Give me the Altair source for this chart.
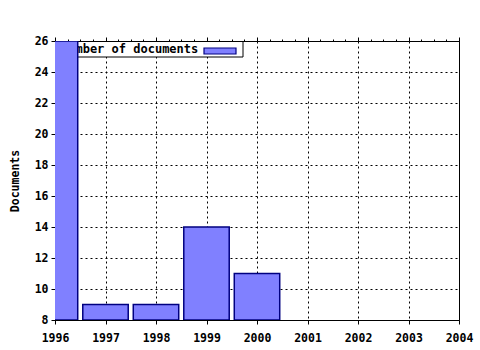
import altair as alt
import pandas as pd

years = [1996, 1997, 1998, 1999, 2000]
documents = [26, 9, 9, 14, 11]
legend_label = "Number of documents"
y_title = "Documents"

df = pd.DataFrame({"year": years, "documents": documents, "base": [8] * len(years)})

FONT = "DejaVu Sans Mono"
FILL = "#8080ff"
STROKE = "#000080"

quarter_ticks = [1996 + i * 0.25 for i in range(33)]
x_scale = alt.Scale(domain=[1996, 2004], nice=False, zero=False)
y_scale = alt.Scale(domain=[8, 26], nice=False, zero=False)

bottom_axis = alt.Axis(
    values=quarter_ticks, format="d",
    labelExpr="datum.value % 1 === 0 ? datum.label : ''",
    tickSize=alt.ExprRef(expr="datum.value % 1 === 0 ? 4 : 2"),
    gridOpacity=alt.ExprRef(expr="datum.value % 1 === 0 ? 1 : 0"),
    grid=True, gridColor="black", gridDash=[2, 3], gridWidth=1,
    labelFont=FONT, labelFontWeight="bold", labelFontSize=11.5, labelPadding=8,
    labelColor="black", tickColor="black", domainColor="black",
    labelOverlap=False, labelFlush=False, title=None,
)
top_axis = alt.Axis(
    orient="top", values=quarter_ticks, labels=False, grid=False,
    tickSize=alt.ExprRef(expr="datum.value % 1 === 0 ? 4 : 2"),
    tickColor="black", domainColor="black", title=None,
)
left_axis = alt.Axis(
    values=list(range(8, 27, 2)), tickSize=4, grid=True, gridColor="black",
    gridDash=[2, 3], gridWidth=1, labelFont=FONT, labelFontWeight="bold",
    labelFontSize=11.5, labelPadding=3, labelColor="black", tickColor="black",
    domainColor="black", labelFlush=False, title=y_title, titleFont=FONT,
    titleFontWeight="bold", titleFontSize=11.5, titlePadding=14, titleColor="black",
)

one = alt.Data(values=[{}])

legend_box = alt.Chart(one).mark_rect(fill="white", stroke="black", strokeWidth=1).encode(
    x=alt.value(2), x2=alt.value(188), y=alt.value(0.5), y2=alt.value(16)
)
legend_text = alt.Chart(one).mark_text(
    text=legend_label, font=FONT, fontWeight="bold", fontSize=12,
    align="left", baseline="alphabetic", color="black"
).encode(x=alt.value(6), y=alt.value(12))
legend_swatch = alt.Chart(one).mark_rect(fill=FILL, stroke=STROKE, strokeWidth=1.2).encode(
    x=alt.value(149), x2=alt.value(181), y=alt.value(7), y2=alt.value(13)
)

base = alt.Chart(df).transform_calculate(
    x0="datum.year - 0.45", x1="datum.year + 0.45"
)

bars = base.mark_bar(fill=FILL, stroke=STROKE, strokeWidth=1.5, clip=True).encode(
    x=alt.X("x0:Q", scale=x_scale, axis=bottom_axis),
    x2="x1:Q",
    y=alt.Y("documents:Q", scale=y_scale, axis=left_axis),
    y2="base:Q",
)

top = base.mark_point(opacity=0).encode(
    x=alt.X("year:Q", scale=x_scale, axis=top_axis),
    y=alt.value(0),
)

chart = alt.layer(legend_box, legend_text, legend_swatch, bars, top).resolve_axis(
    x="independent"
).properties(
    width=404, height=279,
    autosize=alt.AutoSizeParams(type="none"),
    padding={"left": 55, "top": 41, "right": 21, "bottom": 30},
    background="white",
).configure_view(stroke="black", strokeWidth=1)

chart.save("out.html", embed_options={"renderer": "svg", "actions": False})
